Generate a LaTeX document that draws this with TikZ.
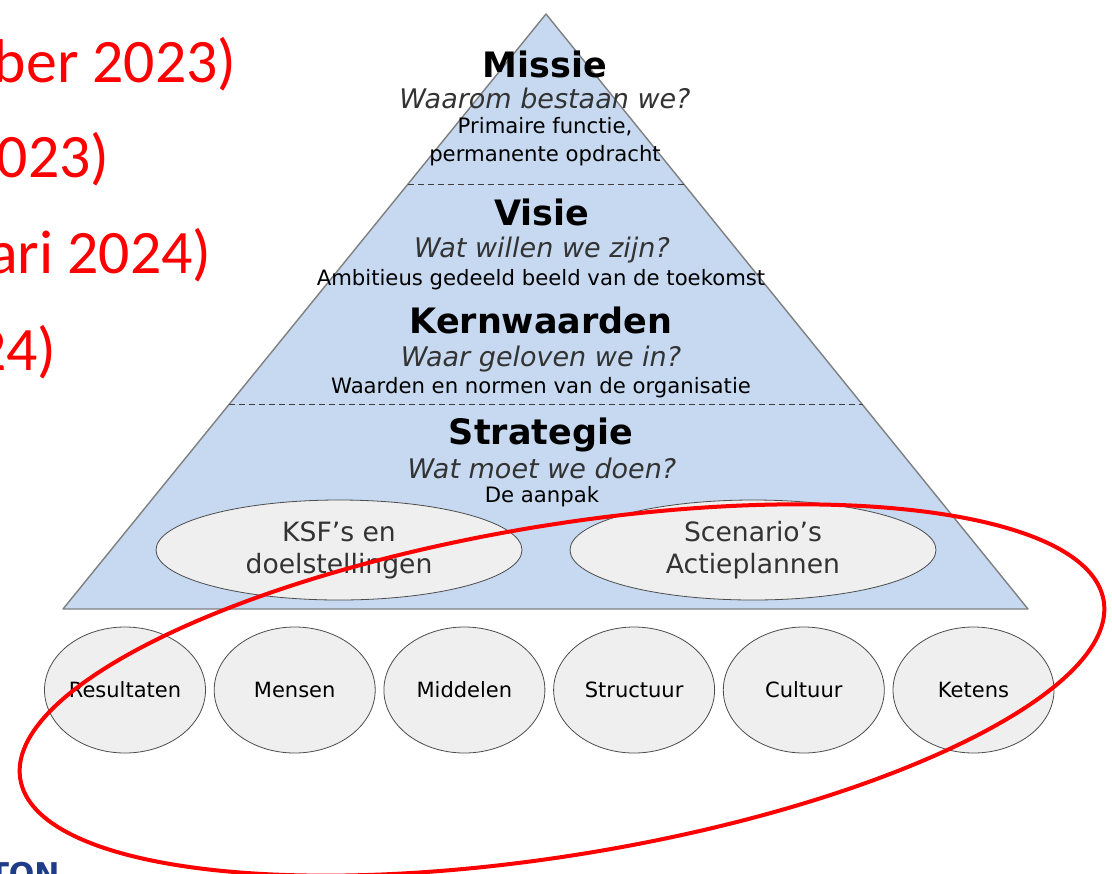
\documentclass[tikz,border=0pt]{standalone}
\usepackage{fontspec}
\usetikzlibrary{shapes.geometric, positioning, calc}
\newfontfamily\vera{DejaVu Sans}
\newfontfamily\calib{Carlito}
\definecolor{piramide}{HTML}{C6D9F0}
\definecolor{rand}{HTML}{7F7F7F}
\definecolor{ovaal}{HTML}{EFEFEF}
\definecolor{logoblauw}{HTML}{1F3C88}
\tikzstyle{titel} = [font=\vera\bfseries\fontsize{17.5}{20}\selectfont, anchor=base, inner sep=0pt]
\tikzstyle{vraag} = [font=\vera\itshape\fontsize{13.5}{16}\selectfont, text=black!80, anchor=base, inner sep=0pt]
\tikzstyle{uitleg} = [font=\vera\fontsize{10.6}{13}\selectfont, anchor=base, inner sep=0pt]
\tikzstyle{doel} = [draw=black!70, fill=ovaal, ellipse, minimum width=183pt, minimum height=50pt, inner sep=0pt, align=center, font=\vera\fontsize{13.3}{16}\selectfont, text=black!80]
\tikzstyle{pijler} = [draw=black!70, fill=ovaal, ellipse, minimum width=80.5pt, minimum height=63pt, inner sep=0pt, font=\vera\fontsize{10.5}{12}\selectfont, node distance=84.85pt]
\tikzstyle{datum} = [font=\calib\fontsize{30.9}{36}\selectfont, text=red, anchor=base east, inner sep=0pt]
\tikzstyle{lijn} = [black!75, densely dashed, line width=0.5pt]

\begin{document}
\begin{tikzpicture}[x=0.5pt, y=-0.5pt]
  \useasboundingbox (0,0) rectangle (1112,873);
  \clip (0,0) rectangle (1112,873);

  % piramide
  \coordinate (top) at (546,14);
  \coordinate (linksonder) at (63,609);
  \coordinate (rechtsonder) at (1028,609);
  \draw[rand, fill=piramide, line width=0.7pt, line join=round] (top) -- (linksonder) -- (rechtsonder) -- cycle;
  \draw[lijn] ($(top)!0.2857!(linksonder)$) -- ($(top)!0.2857!(rechtsonder)$);
  \draw[lijn] ($(top)!0.657!(linksonder)$) -- ($(top)!0.657!(rechtsonder)$);

  \node[titel] (missie) at (545,77) {Missie};
  \node[vraag] (missievraag) at (545,108) {Waarom bestaan we?};
  \node[uitleg] (missie1) at (545,133) {Primaire functie,};
  \node[uitleg] (missie2) at (545,161) {permanente opdracht};
  \node[titel] (visie) at (542,225) {Visie};
  \node[vraag] (visievraag) at (542,257) {Wat willen we zijn?};
  \node[uitleg] (visie1) at (541,285) {Ambitieus gedeeld beeld van de toekomst};
  \node[titel] (kern) at (541,333) {Kernwaarden};
  \node[vraag] (kernvraag) at (541,366) {Waar geloven we in?};
  \node[uitleg] (kern1) at (541,393) {Waarden en normen van de organisatie};
  \node[titel] (strategie) at (541,444) {Strategie};
  \node[vraag] (strategievraag) at (542,478) {Wat moet we doen?};
  \node[uitleg] (strategie1) at (542,502) {De aanpak};

  \node[doel] (ksf) at (339,550) {KSF’s en\\doelstellingen};
  \node[doel, right of=ksf, node distance=207pt] (scenario) {Scenario’s\\Actieplannen};

  % pijlers
  \node[pijler] (resultaten) at (125,690) {Resultaten};
  \node[pijler, right of=resultaten] (mensen) {Mensen};
  \node[pijler, right of=mensen] (middelen) {Middelen};
  \node[pijler, right of=middelen] (structuur) {Structuur};
  \node[pijler, right of=structuur] (cultuur) {Cultuur};
  \node[pijler, right of=cultuur] (ketens) {Ketens};

  % data links
  \node[datum] (datum1) at (237,82) {ber 2023)};
  \node[datum] (datum2) at (110,177) {023)};
  \node[datum] (datum3) at (212,273) {ari 2024)};
  \node[datum] (datum4) at (57,370) {24)};

  \node[font=\vera\bfseries\fontsize{15}{18}\selectfont, text=logoblauw, anchor=north east, inner sep=0pt] (logo) at (60,862) {TON};

  % rode ring
  \coordinate (midden) at (562,690);
  \draw[red, line width=2pt, rotate around={9.35:(midden)}] (midden) ellipse [x radius=549, y radius=165];
\end{tikzpicture}
\end{document}
